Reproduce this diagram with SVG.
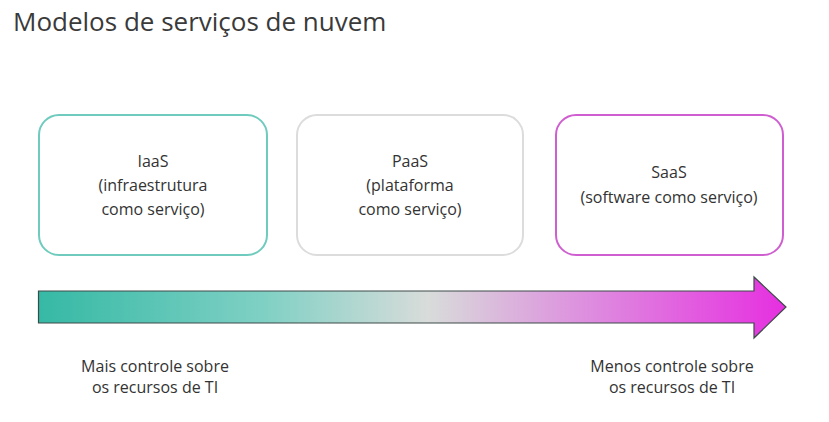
<svg xmlns="http://www.w3.org/2000/svg" width="829" height="422" viewBox="0 0 829 422">
<defs>
<linearGradient id="grad" x1="38" y1="0" x2="787" y2="0" gradientUnits="userSpaceOnUse">
<stop offset="0" stop-color="#35b9a5"/>
<stop offset="0.3" stop-color="#7fd0c4"/>
<stop offset="0.52" stop-color="#d8dcda"/>
<stop offset="0.75" stop-color="#de88df"/>
<stop offset="1" stop-color="#e62ee0"/>
</linearGradient>
<style>
text{font-family:"Open Sans","Liberation Sans",sans-serif;fill:#333;text-anchor:middle}
.box{fill:#fff;stroke-width:2}
.lbl{font-size:16px}
.title{font-size:26px;text-anchor:start;fill:#3a3a3a}
</style>
</defs>
<rect width="829" height="422" fill="#fff"/>
<text class="title" x="13" y="31">Modelos de serviços de nuvem</text>
<g id="iaas">
<rect class="box" x="39" y="115" width="228" height="140" rx="20" stroke="#6fcbbd"/>
<text class="lbl" x="153" y="167">IaaS</text>
<text class="lbl" x="153" y="191">(infraestrutura</text>
<text class="lbl" x="153" y="215">como serviço)</text>
</g>
<g id="paas">
<rect class="box" x="297" y="115" width="226" height="140" rx="20" stroke="#dcdcdc"/>
<text class="lbl" x="410" y="167">PaaS</text>
<text class="lbl" x="410" y="191">(plataforma</text>
<text class="lbl" x="410" y="215">como serviço)</text>
</g>
<g id="saas">
<rect class="box" x="556" y="115" width="227" height="140" rx="20" stroke="#cf5fd0"/>
<text class="lbl" x="669" y="178">SaaS</text>
<text class="lbl" x="669" y="203">(software como serviço)</text>
</g>
<g id="connectors">
<path d="M38.5 291 H754 V277 L786 307 L754 338 V323 H38.5 Z" fill="url(#grad)" stroke="#3c4a48" stroke-width="1.2" stroke-linejoin="miter"/>
</g>
<g id="labels">
<text class="lbl" x="155" y="372">Mais controle sobre</text>
<text class="lbl" x="155" y="393">os recursos de TI</text>
<text class="lbl" x="672" y="372">Menos controle sobre</text>
<text class="lbl" x="672" y="393">os recursos de TI</text>
</g>
</svg>
